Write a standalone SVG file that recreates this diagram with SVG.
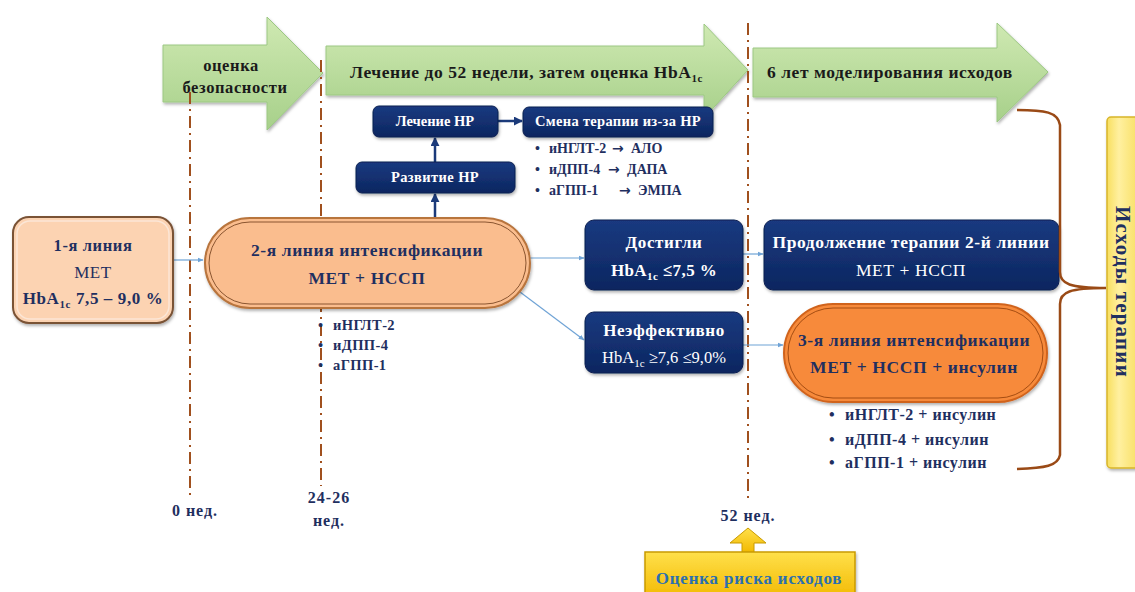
<svg xmlns="http://www.w3.org/2000/svg" width="1135" height="592" viewBox="0 0 1135 592">
<defs>
<linearGradient id="gGreen" x1="0" y1="0" x2="0" y2="1"><stop offset="0" stop-color="#cfe9b2"/><stop offset="1" stop-color="#a7d08a"/></linearGradient>
<linearGradient id="gNavy" x1="0" y1="0" x2="0" y2="1"><stop offset="0" stop-color="#1a3a80"/><stop offset="1" stop-color="#0c2660"/></linearGradient>
<linearGradient id="gGold" x1="0" y1="0" x2="0" y2="1"><stop offset="0" stop-color="#ffe04a"/><stop offset="1" stop-color="#f2b800"/></linearGradient>
<linearGradient id="gYel" x1="0" y1="0" x2="1" y2="0"><stop offset="0" stop-color="#f8df60"/><stop offset="0.3" stop-color="#fff0a0"/><stop offset="1" stop-color="#f5d84a"/></linearGradient>
<filter id="sh" x="-10%" y="-10%" width="120%" height="130%"><feDropShadow dx="1" dy="2" stdDeviation="1.5" flood-color="#000" flood-opacity="0.3"/></filter>
<marker id="mBlue" viewBox="0 0 10 10" refX="9" refY="5" markerWidth="6" markerHeight="6" orient="auto" markerUnits="userSpaceOnUse"><path d="M0,1 L10,5 L0,9 Z" fill="#6fa3d6"/></marker>
<marker id="mNavy" viewBox="0 0 10 10" refX="9" refY="5" markerWidth="9" markerHeight="9" orient="auto" markerUnits="userSpaceOnUse"><path d="M0,0 L10,5 L0,10 Z" fill="#1b3a7a"/></marker>
<style>
text{font-family:"Liberation Serif","Times New Roman",serif;}
.b{font-weight:bold;}
.dk{fill:#1f2f60;}
.bk{fill:#1a1a1a;}
.wh{fill:#ffffff;}
.sp{letter-spacing:0.6px;}
.sp2{letter-spacing:1px;}
.arr{font-family:"DejaVu Sans",sans-serif;font-weight:bold;}
.green{fill:url(#gGreen);stroke:#9cc883;stroke-width:1;filter:url(#sh);}
.navy{fill:url(#gNavy);stroke:#0a1f50;stroke-width:1;filter:url(#sh);}
.dash{stroke:#a0501e;stroke-width:2;fill:none;stroke-dasharray:12 5 2 5;}
.conn{stroke:#6fa3d6;stroke-width:1.2;fill:none;marker-end:url(#mBlue);}
.nconn{stroke:#1b3a7a;stroke-width:2.5;fill:none;marker-end:url(#mNavy);}
.brace{stroke:#9a4a16;stroke-width:2.5;fill:none;}
</style>
</defs>

<g id="phase-arrows">
<g id="arrow-safety">
<path class="green" d="M163,45 H267 V17 L323,73 L267,130 V102 H163 Z"/>
<text class="b bk sp" x="231" y="71" font-size="16.5" text-anchor="middle">оценка</text>
<text class="b bk sp" x="235" y="93" font-size="16.5" text-anchor="middle">безопасности</text>
</g>
<g id="arrow-treatment">
<path class="green" d="M326,46 H704 V24 L748,70 L704,118 V95 H326 Z"/>
<text class="b bk" x="350" y="78" font-size="17.5" letter-spacing="0.55">Лечение до 52 недели, затем оценка HbA<tspan font-size="11" dy="4">1c</tspan></text>
</g>
<g id="arrow-modeling">
<path class="green" d="M753,48 H997 V23 L1048,72 L997,122 V97 H753 Z"/>
<text class="b bk" x="767" y="78" font-size="17.5" letter-spacing="0.55">6 лет моделирования исходов</text>
</g>
</g>

<g id="timeline">
<line class="dash" x1="190" y1="92" x2="190" y2="496"/>
<line class="dash" x1="321" y1="60" x2="321" y2="486"/>
<line class="dash" x1="748" y1="23" x2="748" y2="500"/>
<text class="b dk sp2" x="195" y="516" font-size="16" text-anchor="middle">0 нед.</text>
<text class="b dk sp2" x="329" y="503" font-size="16" text-anchor="middle">24-26</text>
<text class="b dk sp2" x="329" y="526" font-size="16" text-anchor="middle">нед.</text>
<text class="b dk sp2" x="748" y="521" font-size="16" text-anchor="middle">52 нед.</text>
</g>

<g id="connectors">
<line class="conn" x1="173" y1="260" x2="203" y2="260"/>
<line class="conn" x1="529" y1="258" x2="584" y2="258"/>
<line class="conn" x1="520" y1="292" x2="584" y2="340"/>
<line class="conn" x1="743" y1="254" x2="763" y2="254"/>
<line class="conn" x1="743" y1="345" x2="783" y2="345"/>
<line class="nconn" x1="435" y1="217" x2="435" y2="194"/>
<line class="nconn" x1="435" y1="162" x2="435" y2="138"/>
<line class="nconn" x1="498" y1="121" x2="522" y2="121"/>
</g>

<g id="node-line1">
<rect x="13" y="217" width="160" height="106" rx="16" fill="#fcd3b2" stroke="#7a5236" stroke-width="2" filter="url(#sh)"/>
<rect x="17" y="221" width="152" height="98" rx="13" fill="none" stroke="#fbe6d6" stroke-width="1.5"/>
<text class="b dk sp" x="93" y="251" font-size="16.5" text-anchor="middle">1-я линия</text>
<text class="dk sp" x="93" y="278" font-size="17" text-anchor="middle">МЕТ</text>
<text class="b dk sp" x="93" y="304" font-size="17" text-anchor="middle">HbA<tspan font-size="11" dy="4">1c</tspan><tspan dy="-4"> 7,5 – 9,0 %</tspan></text>
</g>

<g id="node-line2">
<rect x="205" y="218" width="325" height="90" rx="45" fill="#fabd8e" stroke="#b8743e" stroke-width="2" filter="url(#sh)"/>
<rect x="209" y="222" width="317" height="82" rx="41" fill="none" stroke="#8a5530" stroke-width="1"/>
<text class="b dk" x="367" y="256" font-size="17.5" letter-spacing="0.6" text-anchor="middle">2-я линия  интенсификации</text>
<text class="b dk" x="367" y="284" font-size="17.5" letter-spacing="0.6" text-anchor="middle">МЕТ + НССП</text>
</g>

<g id="list-line2">
<text class="b dk" font-size="14.5" letter-spacing="0.4"><tspan x="318" y="330">•</tspan><tspan x="333" y="330">иНГЛТ-2</tspan><tspan x="318" y="350">•</tspan><tspan x="333" y="350">иДПП-4</tspan><tspan x="318" y="370">•</tspan><tspan x="333" y="370">аГПП-1</tspan></text>
</g>

<g id="node-ae">
<rect class="navy" x="356" y="162" width="159" height="31" rx="6"/>
<text class="b wh" x="435" y="182" font-size="14.5" letter-spacing="0.4" text-anchor="middle">Развитие НР</text>
</g>

<g id="node-ae-treat">
<rect class="navy" x="373" y="106" width="125" height="31" rx="6"/>
<text class="b wh" x="435" y="126" font-size="14.5" text-anchor="middle">Лечение НР</text>
</g>

<g id="node-switch">
<rect class="navy" x="523" y="107" width="190" height="30" rx="6"/>
<text class="b wh" x="618" y="126" font-size="14.5" letter-spacing="0.3" text-anchor="middle">Смена терапии из-за НР</text>
<text class="b dk" font-size="14"><tspan x="535" y="153">•</tspan><tspan x="549" y="153">иНГЛТ-2</tspan><tspan class="arr" x="612" y="153" font-size="14">→</tspan><tspan x="631" y="153">АЛО</tspan><tspan x="535" y="174">•</tspan><tspan x="549" y="174">иДПП-4</tspan><tspan class="arr" x="608" y="174" font-size="14">→</tspan><tspan x="627" y="174">ДАПА</tspan><tspan x="535" y="195">•</tspan><tspan x="549" y="195">аГПП-1</tspan><tspan class="arr" x="619" y="195" font-size="14">→</tspan><tspan x="638" y="195">ЭМПА</tspan></text>
</g>

<g id="node-achieved">
<rect class="navy" x="585" y="220" width="158" height="70" rx="9"/>
<text class="b wh" x="664" y="248" font-size="17" letter-spacing="0.6" text-anchor="middle">Достигли</text>
<text class="b wh" x="664" y="276" font-size="17" letter-spacing="0.4" text-anchor="middle">HbA<tspan font-size="11" dy="4">1c</tspan><tspan dy="-4"> ≤7,5 %</tspan></text>
</g>

<g id="node-continue">
<rect class="navy" x="764" y="220" width="295" height="70" rx="9"/>
<text class="b wh" x="911" y="248" font-size="17.5" letter-spacing="0.6" text-anchor="middle">Продолжение терапии 2-й линии</text>
<text class="wh" x="911" y="276" font-size="17.5" letter-spacing="0.6" text-anchor="middle">МЕТ +  НССП</text>
</g>

<g id="node-ineffective">
<rect class="navy" x="585" y="312" width="158" height="61" rx="9"/>
<text class="b wh" x="664" y="336" font-size="17" letter-spacing="0.6" text-anchor="middle">Неэффективно</text>
<text class="wh" x="664" y="363" font-size="16.5" text-anchor="middle">HbA<tspan font-size="11" dy="4">1c</tspan><tspan dy="-4"> ≥7,6 ≤9,0%</tspan></text>
</g>

<g id="node-line3">
<rect x="784" y="304" width="263" height="98" rx="49" fill="#f78a3a" stroke="#d0641e" stroke-width="2" filter="url(#sh)"/>
<rect x="788" y="308" width="255" height="90" rx="45" fill="none" stroke="#a54d12" stroke-width="1"/>
<text class="b dk" x="914" y="346" font-size="17.5" letter-spacing="0.6" text-anchor="middle">3-я линия  интенсификации</text>
<text class="b dk" x="914" y="373" font-size="17.5" letter-spacing="0.6" text-anchor="middle">МЕТ + НССП + инсулин</text>
<text class="b dk" font-size="16" letter-spacing="0.5"><tspan x="829" y="420">•</tspan><tspan x="845" y="420">иНГЛТ-2 + инсулин</tspan><tspan x="829" y="445">•</tspan><tspan x="845" y="445">иДПП-4 + инсулин</tspan><tspan x="829" y="468">•</tspan><tspan x="845" y="468">аГПП-1 + инсулин</tspan></text>
</g>

<g id="brace">
<path class="brace" d="M1017,110 C1045,110 1058,112 1060,125 V272 C1060,284 1070,288 1106,288 C1070,288 1060,292 1060,304 V455 C1058,466 1045,468 1017,469"/>
</g>

<g id="node-outcomes">
<rect x="1107" y="117" width="40" height="351" rx="4" fill="url(#gYel)" stroke="#d8b52a" stroke-width="1.5" filter="url(#sh)"/>
<text class="b dk" x="1123" y="292" font-size="21" letter-spacing="1.2" text-anchor="middle" transform="rotate(90 1123 292)" dy="7">Исходы терапии</text>
</g>

<g id="node-risk">
<path d="M748,528 L766,543 L754,543 L754,553 L742,553 L742,543 L730,543 Z" fill="url(#gGold)" stroke="#c99a00" stroke-width="1"/>
<rect x="645" y="552" width="210" height="48" fill="url(#gGold)" stroke="#c99a00" stroke-width="1.5" filter="url(#sh)"/>
<text class="b" x="749" y="584" font-size="17" letter-spacing="0.8" text-anchor="middle" fill="#2a6fb0">Оценка риска исходов</text>
</g>
</svg>
